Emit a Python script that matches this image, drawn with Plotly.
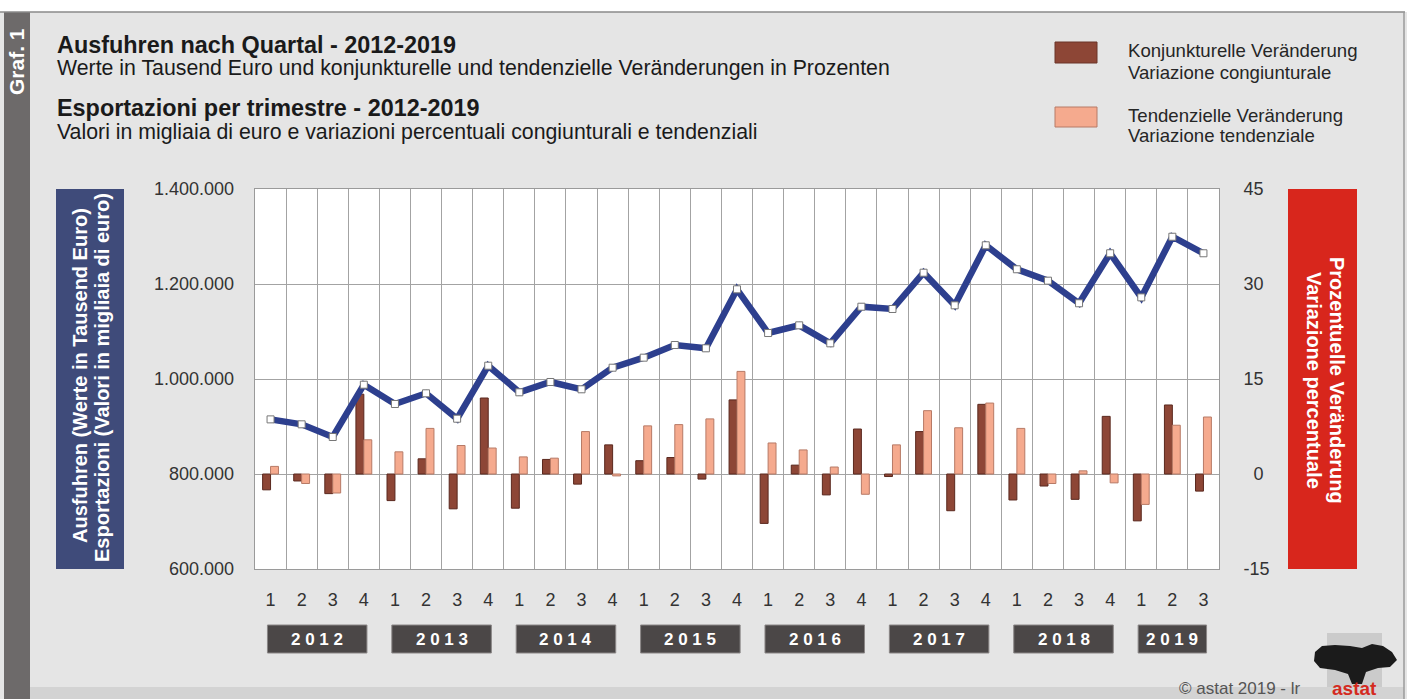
import plotly.graph_objects as go

# ---------------- data ----------------
years = ["2012", "2013", "2014", "2015", "2016", "2017", "2018", "2019"]
quarters = ["1", "2", "3", "4"] * 7 + ["1", "2", "3"]
exports = [915000, 904600, 877900, 988000,
           947400, 969900, 916400, 1028000,
           972000, 993700, 978300, 1023800,
           1044900, 1071600, 1064600, 1188800,
           1096800, 1113000, 1075100, 1152200,
           1147400, 1223800, 1155100, 1281500,
           1231000, 1207000, 1159400, 1264700,
           1171800, 1299500, 1264700]
konj = [-2.5, -1.1, -3.1, 12.6, -4.2, 2.4, -5.5, 12.0, -5.4, 2.3, -1.6, 4.6,
        2.1, 2.6, -0.8, 11.7, -7.8, 1.4, -3.3, 7.1, -0.4, 6.7, -5.8, 11.0,
        -4.1, -1.9, -4.0, 9.1, -7.4, 10.9, -2.7]
tend = [1.2, -1.5, -3.0, 5.4, 3.5, 7.2, 4.5, 4.1, 2.7, 2.5, 6.7, -0.3,
        7.6, 7.8, 8.7, 16.2, 4.9, 3.8, 1.1, -3.2, 4.6, 10.0, 7.3, 11.2,
        7.2, -1.5, 0.5, -1.4, -4.8, 7.7, 9.0]
pct_ticks = [-15, 0, 15, 30, 45]
pct_ticktext = ["-15", "\u20070", "15", "30", "45"]
val_ticks = [600000, 800000, 1000000, 1200000, 1400000]

# ---------------- geometry helpers ----------------
W, H = 1407, 699
PL, PR, PT, PB = 255, 1219, 189, 569
FONT = "Liberation Sans, Arial, sans-serif"


def px(X):
    return (X - PL) / (PR - PL)


def py(Y):
    return (PB - Y) / (PB - PT)


n = len(quarters)
xs = list(range(n))

DARK = "#8d4636"
LIGHT = "#f5aa8e"
NAVY = "#2d3f8e"

fig = go.Figure()
fig.add_trace(go.Bar(x=xs, y=konj, name="Konjunkturelle Veränderung",
                     marker=dict(color=DARK, line=dict(color="#5a281e", width=1)),
                     yaxis="y"))
fig.add_trace(go.Bar(x=xs, y=tend, name="Tendenzielle Veränderung",
                     marker=dict(color=LIGHT, line=dict(color="#b77a66", width=1)),
                     yaxis="y"))
fig.add_trace(go.Scatter(x=xs, y=exports, mode="lines+markers", yaxis="y2",
                         line=dict(color=NAVY, width=6.5),
                         marker=dict(symbol="square", size=7, color="white",
                                     line=dict(color="#777777", width=1))))

shapes = []
ann = []


def rect(x0, y0, x1, y1, color, line=None, opacity=1):
    shapes.append(dict(type="rect", xref="paper", yref="paper",
                       x0=px(x0), x1=px(x1), y0=py(y0), y1=py(y1),
                       fillcolor=color, line=dict(width=0) if line is None else line,
                       layer="below", opacity=opacity))


def text(X, Y, s, size, color="#1a1a1a", bold=False, anchor="left", angle=0):
    ann.append(dict(xref="paper", yref="paper", x=px(X), y=py(Y), text=("<b>%s</b>" % s) if bold else s,
                    showarrow=False, xanchor=anchor, yanchor="middle", textangle=angle,
                    font=dict(family=FONT, size=size, color=color)))


def path(points, color):
    d = "M " + " L ".join("%f,%f" % (px(a), py(b)) for a, b in points) + " Z"
    shapes.append(dict(type="path", xref="paper", yref="paper", path=d,
                       fillcolor=color, line=dict(width=0)))


# page frame
rect(0, 0, W, 12, "white")
shapes.append(dict(type="line", xref="paper", yref="paper", x0=px(0), x1=px(1405),
                   y0=py(12), y1=py(12), line=dict(color="#8a8a8a", width=1.5)))
shapes.append(dict(type="line", xref="paper", yref="paper", x0=px(1404), x1=px(1404),
                   y0=py(12), y1=py(699), line=dict(color="#9a9a9a", width=1.5)))
rect(4, 12, 30, 699, "#6d6a6a")
rect(30, 687, 1404, 699, "#d3d3d3")
text(17, 62, "Graf. 1", 21, color="white", bold=True, anchor="center", angle=-90)

# titles
text(55, 45, "Ausfuhren nach Quartal - 2012-2019", 23.4, bold=True)
text(55, 68, "Werte in Tausend Euro und konjunkturelle und tendenzielle Veränderungen in Prozenten", 21.3)
text(55, 108, "Esportazioni per trimestre - 2012-2019", 23.4, bold=True)
text(55, 132, "Valori in migliaia di euro e variazioni percentuali congiunturali e tendenziali", 21.3)

# legend
rect(1055, 42, 1097, 63, DARK, line=dict(color="#6a3428", width=1))
rect(1055, 107, 1097, 127, LIGHT, line=dict(color="#b77a66", width=1))
text(1126, 50, "Konjunkturelle Veränderung", 18.6, color="#262626")
text(1126, 72, "Variazione congiunturale", 18.6, color="#262626")
text(1126, 115, "Tendenzielle Veränderung", 18.6, color="#262626")
text(1126, 136, "Variazione tendenziale", 18.6, color="#262626")

# axis title boxes
rect(56, 189, 124, 569, "#3f4b7a")
text(80, 376, "Ausfuhren (Werte in Tausend Euro)", 20, color="white", bold=True, anchor="center", angle=-90)
text(102, 378, "Esportazioni (Valori in migliaia di euro)", 20, color="white", bold=True, anchor="center", angle=-90)
rect(1288, 189, 1357, 569, "#d8261c")
text(1337, 380, "Prozentuelle Veränderung", 20, color="white", bold=True, anchor="center", angle=90)
text(1314, 380, "Variazione percentuale", 20, color="white", bold=True, anchor="center", angle=90)

# year boxes under the quarter labels
start = 0
for yr in years:
    cnt = quarters[start:].index("1", 1) if "1" in quarters[start + 1:] else n - start
    x0, x1 = start - 0.5 + 0.4, start + cnt - 0.5 - 0.4
    shapes.append(dict(type="rect", xref="x", yref="paper", x0=x0, x1=x1,
                       y0=py(653), y1=py(625), fillcolor="#4b4747",
                       line=dict(color="#8a8686", width=1), layer="below"))
    ann.append(dict(xref="x", yref="paper", x=(x0 + x1) / 2, y=py(639),
                    text="<b>%s</b>" % " ".join(yr), showarrow=False,
                    xanchor="center", yanchor="middle",
                    font=dict(family=FONT, size=17, color="white")))
    start += cnt

# footer / logo
text(1303, 688, "© astat 2019 - lr", 17, color="#555555", anchor="right")
rect(1327, 633, 1382, 687, "#9a9a9a", opacity=0.35)
path([(1315, 652), (1322, 646), (1335, 645), (1350, 646), (1362, 648), (1372, 644),
      (1383, 646), (1392, 652), (1397, 660), (1390, 667), (1378, 668), (1366, 672),
      (1362, 684), (1352, 684), (1348, 674), (1335, 670), (1320, 668), (1314, 661)], "#1b1b1b")
text(1354, 688, "astat", 19, color="#d42a1f", bold=True, anchor="center")

fig.update_layout(
    width=W, height=H, autosize=False,
    margin=dict(l=PL, r=W - PR, t=PT, b=H - PB, pad=0),
    paper_bgcolor="#e5e5e5", plot_bgcolor="white",
    showlegend=False, barmode="group", bargap=0.49, bargroupgap=0,
    separators=",.",
    font=dict(family=FONT, size=18, color="#333333"),
    shapes=shapes, annotations=ann,
    xaxis=dict(range=[-0.5, n - 0.5], tickmode="array", tickvals=xs, ticktext=quarters,
               showgrid=False, zeroline=False, showline=True, mirror=True,
               linecolor="#9a9a9a", linewidth=1, ticks="", ticklabelstandoff=14,
               tickfont=dict(size=18, color="#333333"),
               minor=dict(tickmode="array", tickvals=[i + 0.5 for i in range(n - 1)],
                          showgrid=True, gridcolor="#a3a3a3", gridwidth=1, ticks="")),
    yaxis=dict(range=[-15, 45], tickmode="array", tickvals=pct_ticks, ticktext=pct_ticktext,
               side="right", showgrid=True, gridcolor="#a3a3a3", gridwidth=1,
               zeroline=False, showline=True, mirror=True, linecolor="#9a9a9a",
               ticks="", ticklabelstandoff=20, tickfont=dict(size=18, color="#333333")),
    yaxis2=dict(range=[600000, 1400000], tickmode="array", tickvals=val_ticks,
                tickformat=",d", overlaying="y", side="left", showgrid=False,
                zeroline=False, showline=False, ticks="", ticklabelstandoff=20,
                tickfont=dict(size=18, color="#333333")),
)

fig.write_html("out.html", config={"displayModeBar": False},
               post_script="document.body.style.margin='0';document.body.style.overflow='hidden';")
